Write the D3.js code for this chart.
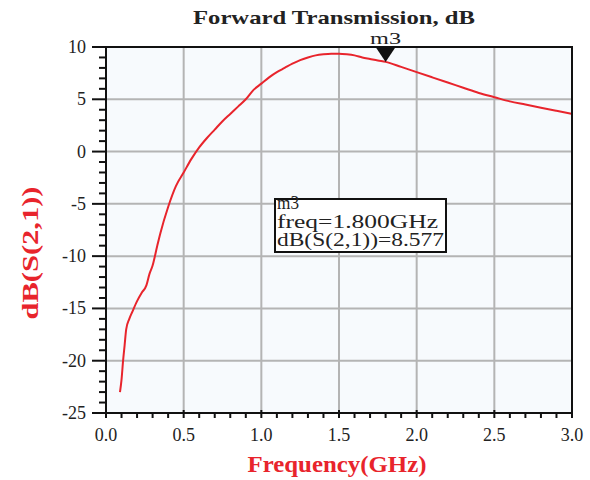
<!DOCTYPE html>
<html><head><meta charset="utf-8">
<script src="https://cdn.jsdelivr.net/npm/d3@7"></script>
<style>body{margin:0;background:#fff}</style>
</head><body>
<svg id="c" width="590" height="480"></svg>
<script>
const freq = [0.09,0.10,0.11,0.12,0.13,0.15,0.17,0.20,0.23,0.26,0.28,0.30,0.33,0.35,0.40,0.45,0.50,0.55,0.60,0.65,0.70,0.75,0.80,0.85,0.90,0.95,1.00,1.05,1.10,1.15,1.20,1.25,1.30,1.35,1.40,1.45,1.50,1.55,1.60,1.65,1.70,1.75,1.80,1.90,2.00,2.10,2.20,2.30,2.40,2.50,2.60,2.70,2.80,2.90,3.00];
const s21 = [-23.0,-21.8,-20.0,-18.5,-17.0,-16.0,-15.3,-14.3,-13.5,-12.8,-11.7,-10.9,-9.0,-7.8,-5.3,-3.3,-2.0,-0.7,0.4,1.3,2.1,2.9,3.6,4.3,5.0,5.9,6.5,7.1,7.6,8.0,8.4,8.75,9.0,9.2,9.3,9.35,9.35,9.3,9.2,9.0,8.85,8.7,8.577,8.1,7.6,7.1,6.6,6.1,5.6,5.2,4.8,4.5,4.2,3.9,3.6];
const xTicks = [0.0,0.5,1.0,1.5,2.0,2.5,3.0];
const yTicks = [10,5,0,-5,-10,-15,-20,-25];
const markerName = "m3";
const markerFreq = 1.8;
const markerVal = 8.577;
const markerLines = ["m3","freq=1.800GHz","dB(S(2,1))=8.577"];

const svg = d3.select("#c");
const L=106, R=572, T=47, B=413;
const x = d3.scaleLinear().domain([0,3]).range([L,R]);
const y = d3.scaleLinear().domain([-25,10]).range([B,T]);
const serif = "'Liberation Serif','Times New Roman',serif";

svg.append("rect").attr("x",L).attr("y",T).attr("width",R-L).attr("height",B-T).attr("fill","#f7fafd");

// grid
svg.append("g").selectAll("line").data(xTicks.slice(1,-1)).join("line")
  .attr("x1",d=>x(d)).attr("x2",d=>x(d)).attr("y1",T).attr("y2",B)
  .attr("stroke","#b4b4b4").attr("stroke-width",2);
svg.append("g").selectAll("line").data(yTicks.slice(1,-1)).join("line")
  .attr("y1",d=>y(d)).attr("y2",d=>y(d)).attr("x1",L).attr("x2",R)
  .attr("stroke","#b4b4b4").attr("stroke-width",2);

// curve
svg.append("path").datum(freq.map((f,i)=>[f,s21[i]]))
  .attr("d",d3.line().x(d=>x(d[0])).y(d=>y(d[1])).curve(d3.curveMonotoneX))
  .attr("fill","none").attr("stroke","#e8242c").attr("stroke-width",2);

// border
svg.append("rect").attr("x",L).attr("y",T).attr("width",R-L).attr("height",B-T)
  .attr("fill","none").attr("stroke","#111").attr("stroke-width",2);

// y axis
const yMinor = d3.range(-25,10.01,1);
svg.append("g").selectAll("line").data(yMinor).join("line")
  .attr("x1",d=> (d%5===0)? L-14 : L-7).attr("x2",L)
  .attr("y1",d=>y(d)).attr("y2",d=>y(d)).attr("stroke","#111").attr("stroke-width",2);
svg.append("g").selectAll("text").data(yTicks).join("text")
  .attr("x",86).attr("y",d=>y(d)+6).attr("text-anchor","end")
  .attr("font-family",serif).attr("font-size",18).attr("fill","#222").text(d=>d);

// x axis
const xMinor = d3.range(0,3.001,0.1);
svg.append("g").selectAll("line").data(xMinor).join("line")
  .attr("x1",d=>x(d)).attr("x2",d=>x(d))
  .attr("y1",(d,i)=> i%5===0 ? B-3 : B).attr("y2",B+5)
  .attr("stroke","#111").attr("stroke-width",2);
svg.append("g").selectAll("text").data(xTicks).join("text")
  .attr("x",d=>x(d)).attr("y",441).attr("text-anchor","middle")
  .attr("font-family",serif).attr("font-size",18).attr("fill","#222").text(d=>d.toFixed(1));

// title
svg.append("text").attr("x",334).attr("y",24).attr("text-anchor","middle")
  .attr("font-family",serif).attr("font-weight","bold").attr("font-size",19).attr("fill","#222")
  .attr("textLength",282).attr("lengthAdjust","spacingAndGlyphs")
  .text("Forward Transmission, dB");
svg.append("text").attr("x",337).attr("y",472).attr("text-anchor","middle")
  .attr("font-family",serif).attr("font-weight","bold").attr("font-size",23).attr("fill","#e8242c")
  .attr("textLength",179).attr("lengthAdjust","spacingAndGlyphs")
  .text("Frequency(GHz)");
svg.append("text").attr("transform","translate(38,253) rotate(-90)").attr("text-anchor","middle")
  .attr("font-family",serif).attr("font-weight","bold").attr("font-size",24).attr("fill","#e8242c")
  .attr("textLength",133).attr("lengthAdjust","spacingAndGlyphs")
  .text("dB(S(2,1))");

// marker
const mx = x(markerFreq), my = y(markerVal);
svg.append("path").attr("d",`M${mx-10},${my-15}L${mx+10},${my-15}L${mx},${my}Z`).attr("fill","#111");
svg.append("text").attr("x",mx).attr("y",my-18).attr("text-anchor","middle")
  .attr("font-family",serif).attr("font-size",17).attr("fill","#222")
  .attr("textLength",31).attr("lengthAdjust","spacingAndGlyphs").text(markerName);

// marker box
const bx = 275, by = 199;
svg.append("rect").attr("x",bx).attr("y",by).attr("width",171).attr("height",53)
  .attr("fill","#fff").attr("stroke","#111").attr("stroke-width",2);
const boxLen = [22,161,167];
svg.append("g").selectAll("text").data(markerLines).join("text")
  .attr("x",bx+2).attr("y",(d,i)=>by+10+i*18.5)
  .attr("font-family",serif).attr("font-size",18).attr("fill","#222")
  .attr("textLength",(d,i)=>boxLen[i]).attr("lengthAdjust","spacingAndGlyphs").text(d=>d);
</script>
</body></html>
